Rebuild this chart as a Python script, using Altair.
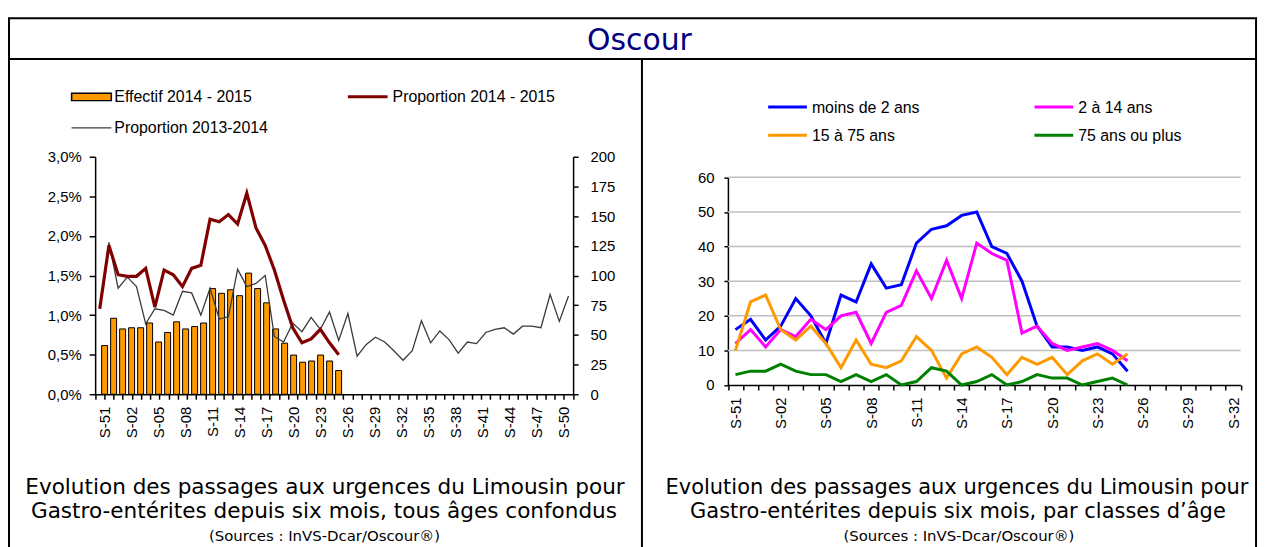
import json
import altair as alt
import pandas as pd

# ---------------- data ----------------
weeks_left = ["S-51", "S-52"] + [f"S-{i:02d}" for i in range(1, 51)]    # 52 weeks
weeks_right = ["S-51", "S-52"] + [f"S-{i:02d}" for i in range(1, 33)]   # 34 weeks

effectif_2014_2015 = [41, 64, 55, 56, 56, 60, 44, 52, 61, 55, 57, 60, 89, 85, 88, 83,
                      102, 89, 77, 55, 43, 33, 27, 28, 33, 28, 20]
proportion_2014_2015 = [1.08, 1.88, 1.51, 1.49, 1.49, 1.59, 1.10, 1.57, 1.51, 1.36, 1.59,
                        1.63, 2.21, 2.18, 2.27, 2.15, 2.54, 2.10, 1.88, 1.57, 1.19, 0.84,
                        0.65, 0.70, 0.82, 0.65, 0.50]
proportion_2013_2014 = [1.08, 1.92, 1.34, 1.48, 1.36, 0.89, 1.08, 1.06, 1.00, 1.30, 1.28,
                        1.00, 1.34, 0.95, 0.98, 1.58, 1.36, 1.40, 1.50, 0.73, 0.66, 0.90,
                        0.79, 0.97, 0.82, 1.04, 0.68, 1.02, 0.48, 0.63, 0.72, 0.66, 0.55,
                        0.43, 0.55, 0.93, 0.65, 0.80, 0.69, 0.52, 0.66, 0.64, 0.78, 0.82,
                        0.84, 0.76, 0.86, 0.86, 0.84, 1.26, 0.92, 1.24]

age_names = ["moins de 2 ans", "2 à 14 ans", "15 à 75 ans", "75 ans ou plus"]
age_colors = ["#0000FF", "#FF00FF", "#FF9900", "#008000"]
moins_2 = [16, 19, 13, 17, 25, 20, 12, 26, 24, 35, 28, 29, 41, 45, 46, 49, 50, 40, 38, 30,
           17, 11, 11, 10, 11, 9, 4]
de_2_a_14 = [12, 16, 11, 16, 14, 19, 16, 20, 21, 12, 21, 23, 33, 25, 36, 25, 41, 38, 36, 15,
             17, 12, 10, 11, 12, 10, 7]
de_15_a_75 = [10, 24, 26, 16, 13, 17, 12, 5, 13, 6, 5, 7, 14, 10, 2, 9, 11, 8, 3, 8, 6, 8,
              3, 7, 9, 6, 9]
plus_75 = [3, 4, 4, 6, 4, 3, 3, 1, 3, 1, 3, 0, 1, 5, 4, 0, 1, 3, 0, 1, 3, 2, 2, 0, 1, 2, 0]

count_ticks = list(range(0, 201, 25))
pct_ticks = [0, 0.005, 0.01, 0.015, 0.02, 0.025, 0.03]
age_ticks = list(range(0, 61, 10))

# ---------------- tables ----------------
df_bars = pd.DataFrame({"i": range(len(effectif_2014_2015)), "n": effectif_2014_2015})
df_red = pd.DataFrame({"i": range(len(proportion_2014_2015)),
                       "p": [v / 100 for v in proportion_2014_2015]})
df_gray = pd.DataFrame({"i": range(len(proportion_2013_2014)),
                        "p": [v / 100 for v in proportion_2013_2014]})
rows = []
for name, vals in zip(age_names, [moins_2, de_2_a_14, de_15_a_75, plus_75]):
    for k, v in enumerate(vals):
        rows.append({"i": k, "v": v, "s": name})
df_age = pd.DataFrame(rows)
df_grid = pd.DataFrame({"g": age_ticks[1:]})
one = pd.DataFrame({"k": [0]})

# ---------------- layout helpers ----------------
W, H = 1263, 539
OX, OY = 8, 8


def px(x):
    return x - OX


def py(y):
    return y - OY


LX = alt.Scale(domain=[-0.5, 51.5], range=[px(95.7), px(576.7)], nice=False, zero=False)
LYN = alt.Scale(domain=[0, 200], range=[py(395), py(156)], nice=False, zero=False)
LYP = alt.Scale(domain=[0, 0.03], range=[py(395), py(156)], nice=False, zero=False)
RX = alt.Scale(domain=[-0.5, 33.5], range=[px(732.5), px(1248.5)], nice=False, zero=False)
RY = alt.Scale(domain=[0, 60], range=[py(385.7), py(176.7)], nice=False, zero=False)

AF = "Liberation Sans"
ax_common = dict(labelFont=AF, labelFontSize=15, labelColor="black", domainColor="black",
                 tickColor="black", domainWidth=1.5, tickWidth=1.5, grid=False, title=None,
                 labelOverlap=False, labelFlush=False)

count_axis = alt.Axis(orient="right", offset=-(W - px(576.7)), values=count_ticks,
                      tickSize=5, labelPadding=12, **ax_common)
pct_axis = alt.Axis(orient="left", offset=-px(95.7), values=pct_ticks, tickSize=6,
                    labelPadding=8,
                    labelExpr="replace(format(datum.value*100,'.1f'),'.',',')+'%'",
                    **ax_common)
left_label_axis = alt.Axis(orient="bottom", offset=py(395) - H,
                           values=list(range(0, len(weeks_left), 3)),
                           labelExpr=f"{json.dumps(weeks_left)}[datum.value]",
                           labelAngle=-90, ticks=False, tickSize=0, domain=False,
                           labelPadding=12, **ax_common)
left_tick_axis = alt.Axis(orient="bottom", offset=py(395) - H,
                          values=[k - 0.5 for k in range(len(weeks_left) + 1)],
                          labels=False, tickSize=5, **ax_common)
age_y_axis = alt.Axis(orient="left", offset=-px(732.5), values=age_ticks, tickSize=4,
                      labelPadding=10, **ax_common)
right_label_axis = alt.Axis(orient="bottom", offset=py(385.7) - H,
                            values=list(range(0, len(weeks_right), 3)),
                            labelExpr=f"{json.dumps(weeks_right)}[datum.value]",
                            labelAngle=-90, ticks=False, tickSize=0, domain=False,
                            labelPadding=12, **ax_common)
right_tick_axis = alt.Axis(orient="bottom", offset=py(385.7) - H,
                           values=[k - 0.5 for k in range(len(weeks_right) + 1)],
                           labels=False, tickSize=5, **ax_common)

# ---------------- left chart ----------------
bars = alt.Chart(df_bars).mark_bar(size=6, color="#FF9900", stroke="black",
                                   strokeWidth=1).encode(
    x=alt.X("i:Q", scale=LX, axis=left_label_axis),
    y=alt.Y("n:Q", scale=LYN, axis=count_axis),
)
left_ticks = alt.Chart(df_gray).mark_point(opacity=0).encode(
    x=alt.X("i:Q", scale=LX, axis=left_tick_axis), y=alt.value(0))
gray = alt.Chart(df_gray).mark_line(color="#3A3A3A", strokeWidth=1.3).encode(
    x=alt.X("i:Q", scale=LX, axis=None),
    y=alt.Y("p:Q", scale=LYP, axis=None),
)
red = alt.Chart(df_red).mark_line(color="#800000", strokeWidth=3.2).encode(
    x=alt.X("i:Q", scale=LX, axis=None),
    y=alt.Y("p:Q", scale=LYP, axis=pct_axis),
)

# ---------------- right chart ----------------
grid = alt.Chart(df_grid).mark_rule(color="#C0C0C0", strokeWidth=1.5).encode(
    y=alt.Y("g:Q", scale=RY, axis=None),
    x=alt.value(px(732.5)), x2=alt.value(px(1248.5)))
right_ticks = alt.Chart(df_age).mark_point(opacity=0).encode(
    x=alt.X("i:Q", scale=RX, axis=right_tick_axis), y=alt.value(0))
age_lines = alt.Chart(df_age).mark_line(strokeWidth=3).encode(
    x=alt.X("i:Q", scale=RX, axis=right_label_axis),
    y=alt.Y("v:Q", scale=RY, axis=age_y_axis),
    color=alt.Color("s:N", scale=alt.Scale(domain=age_names, range=age_colors), legend=None),
    order=alt.Order("i:Q"),
)

# ---------------- decorations ----------------
def hrule(x1, x2, y, color="black", w=2.0):
    return alt.Chart(one).mark_rule(color=color, strokeWidth=w).encode(
        x=alt.value(x1), x2=alt.value(x2), y=alt.value(y))


def vrule(x, y1, y2, color="black", w=2.0):
    return alt.Chart(one).mark_rule(color=color, strokeWidth=w).encode(
        x=alt.value(x), y=alt.value(y1), y2=alt.value(y2))


def label(txt, x, y, size=16, font=AF, align="left", baseline="middle", color="black"):
    return alt.Chart(one).mark_text(text=txt, font=font, fontSize=size, align=align,
                                    baseline=baseline, color=color).encode(
        x=alt.value(x), y=alt.value(y))


frame = [
    hrule(0, px(1265), py(16.7)),
    hrule(0, px(1265), py(57.7)),
    vrule(1, py(16), H + 5),
    vrule(px(1264), py(16), H + 5),
    vrule(px(646), py(57.7), H + 5),
]

title = label("Oscour", px(643.5), py(48.3), size=30, font="DejaVu Sans",
              align="center", baseline="alphabetic", color="#000080")

legend_left = [
    alt.Chart(one).mark_rect(color="#FF9900", stroke="black", strokeWidth=1.5).encode(
        x=alt.value(px(72)), x2=alt.value(px(112)), y=alt.value(py(92)), y2=alt.value(py(99.5))),
    label("Effectif 2014 - 2015", px(115), py(96)),
    hrule(px(350), px(390), py(95.5), color="#800000", w=3),
    label("Proportion 2014 - 2015", px(395), py(96)),
    hrule(px(72), px(112), py(127), color="#3A3A3A", w=1.3),
    label("Proportion 2013-2014", px(115), py(127.5)),
]
legend_right = []
leg_pos = [(773, 106), (1041, 106), (773, 134.3), (1041, 134.3)]
for name, col, (lx, ly) in zip(age_names, age_colors, leg_pos):
    legend_right.append(hrule(px(lx), px(lx + 39), py(ly), color=col, w=3))
    legend_right.append(label(name, px(lx + 44), py(ly + 0.5)))

TF = "DejaVu Sans"
captions = [
    label("Evolution des passages aux urgences  du Limousin pour", px(327), py(495),
          size=21.7, font=TF, align="center", baseline="alphabetic"),
    label("Gastro-entérites depuis six mois, tous âges confondus", px(326), py(519.5),
          size=21.7, font=TF, align="center", baseline="alphabetic"),
    label("(Sources : InVS-Dcar/Oscour®)", px(326.5), py(542.5),
          size=15, font=TF, align="center", baseline="alphabetic"),
    label("Evolution des passages aux urgences du Limousin pour", px(963), py(495),
          size=21.1, font=TF, align="center", baseline="alphabetic"),
    label("Gastro-entérites depuis six mois, par classes d’âge", px(964), py(519.5),
          size=21.1, font=TF, align="center", baseline="alphabetic"),
    label("(Sources : InVS-Dcar/Oscour®)", px(965), py(542.5),
          size=15, font=TF, align="center", baseline="alphabetic"),
]

layers = ([grid, bars, left_ticks, gray, red, right_ticks, age_lines]
          + frame + [title] + legend_left + legend_right + captions)

chart = alt.layer(*layers).resolve_scale(
    x="independent", y="independent", color="independent"
).resolve_axis(x="independent", y="independent").properties(
    width=W, height=H, padding=0,
    autosize=alt.AutoSizeParams(type="none"),
    background="white",
).configure_view(stroke=None)

chart.save("out.html", embed_options={"renderer": "svg", "actions": False})
